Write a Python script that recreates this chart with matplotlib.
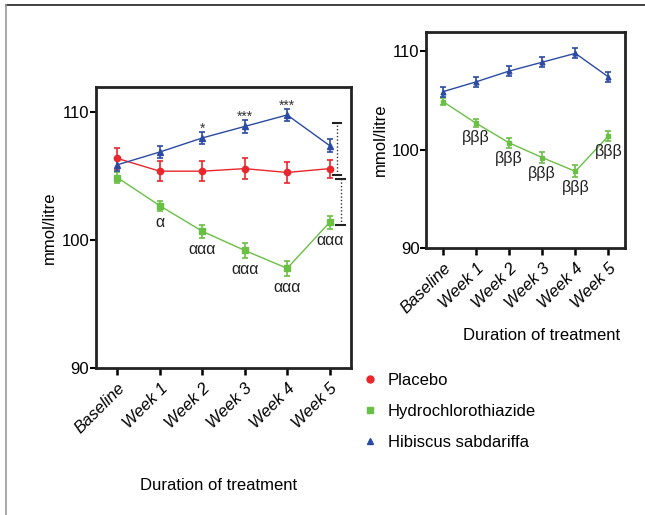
import matplotlib
matplotlib.use('Agg')
import matplotlib.pyplot as plt
from matplotlib.lines import Line2D

plt.rcParams['font.family'] = ['Liberation Sans', 'DejaVu Sans']

# data
weeks = ['Baseline', 'Week 1', 'Week 2', 'Week 3', 'Week 4', 'Week 5']
placebo = [106.4, 105.4, 105.4, 105.6, 105.3, 105.6]
placebo_err = [0.8, 0.8, 0.8, 0.8, 0.8, 0.7]
hctz = [104.9, 102.7, 100.7, 99.2, 97.8, 101.4]
hctz_err = [0.4, 0.4, 0.5, 0.6, 0.6, 0.5]
hibiscus = [105.9, 106.9, 108.0, 108.9, 109.8, 107.4]
hibiscus_err = [0.5, 0.5, 0.5, 0.5, 0.5, 0.5]

stars = ['', '', '*', '***', '***', '']
alpha_marks = ['', 'α', 'ααα', 'ααα', 'ααα', 'ααα']
beta_marks = ['', 'βββ', 'βββ', 'βββ', 'βββ', 'βββ']

RED = '#e8262b'
GREEN = '#6abf45'
BLUE = '#2b4aa3'
FS = 12

fig = plt.figure(figsize=(6.45, 5.15), dpi=100)

# page frame (top + left)
fig.add_artist(Line2D([6/645, 1], [1 - 5/515, 1 - 5/515], color='#222222', lw=1.2))
fig.add_artist(Line2D([6/645, 6/645], [0, 1 - 5/515], color='#999999', lw=1.2))


def style_ax(ax):
    x = range(len(weeks))
    ax.set_xlim(-0.5, 5.5)
    ax.set_ylim(90, 112)
    ax.set_yticks([90, 100, 110])
    ax.set_xticks(list(x))
    ax.set_xticklabels(weeks, rotation=45, ha='right', rotation_mode='anchor',
                       style='italic', fontsize=FS)
    ax.tick_params(axis='y', labelsize=FS, length=4, width=1.5, pad=1)
    ax.tick_params(axis='x', length=5, width=1.8, pad=4)
    for s in ax.spines.values():
        s.set_linewidth(2)
        s.set_color('#222222')
    ax.set_ylabel('mmol/litre', fontsize=FS, labelpad=3)
    ax.set_xlabel('Duration of treatment', fontsize=FS)


def series(ax, y, err, color, marker, ms):
    ax.errorbar(range(len(y)), y, yerr=err, color=color, marker=marker,
                ms=ms, lw=1, elinewidth=1.2, capsize=2, capthick=1.2)


# left panel
ax1 = fig.add_axes([0.149, 0.2854, 0.395, 0.546])
series(ax1, placebo, placebo_err, RED, 'o', 4.5)
series(ax1, hctz, hctz_err, GREEN, 's', 4.5)
series(ax1, hibiscus, hibiscus_err, BLUE, '^', 4.5)
style_ax(ax1)
ax1.xaxis.set_label_coords(0.48, -0.39)

for i, s in enumerate(stars):
    if s:
        ax1.annotate(s, (i, hibiscus[i] + hibiscus_err[i]), xytext=(0, -3),
                     textcoords='offset points', ha='center', va='bottom',
                     fontsize=10, color='#333333')
for i, s in enumerate(alpha_marks):
    if s:
        ax1.annotate(s, (i, hctz[i] - hctz_err[i]), xytext=(0, -3),
                     textcoords='offset points', ha='center', va='top',
                     fontsize=11.5, color='#222222')

# significance brackets at week 5
for xb, y0, y1 in [(5.17, 105.1, 109.15), (5.26, 101.2, 104.8)]:
    ax1.plot([xb, xb], [y0, y1], color='#333333', lw=1, ls=(0, (1, 1.5)))
    ax1.plot([xb - 0.1, xb + 0.1], [y0, y0], color='#222222', lw=1.5)
    ax1.plot([xb - 0.1, xb + 0.1], [y1, y1], color='#222222', lw=1.5)

# right panel
ax2 = fig.add_axes([0.661, 0.5184, 0.308, 0.420])
series(ax2, hctz, hctz_err, GREEN, 's', 3.5)
series(ax2, hibiscus, hibiscus_err, BLUE, '^', 3.5)
style_ax(ax2)
ax2.xaxis.set_label_coords(0.58, -0.37)
for i, s in enumerate(beta_marks):
    if s:
        ax2.annotate(s, (i, hctz[i] - hctz_err[i]), xytext=(0, -2),
                     textcoords='offset points', ha='center', va='top',
                     fontsize=11.5, color='#222222')

# legend
handles = [Line2D([], [], ls='none', marker='o', color=RED, ms=5),
           Line2D([], [], ls='none', marker='s', color=GREEN, ms=5),
           Line2D([], [], ls='none', marker='^', color=BLUE, ms=5)]
fig.legend(handles, ['Placebo', 'Hydrochlorothiazide', 'Hibiscus sabdariffa'],
           loc='upper left', bbox_to_anchor=(0.537, 0.305), frameon=False,
           fontsize=FS, labelspacing=0.95, handletextpad=0.6, handlelength=1)

fig.savefig('out.png', dpi=100)
